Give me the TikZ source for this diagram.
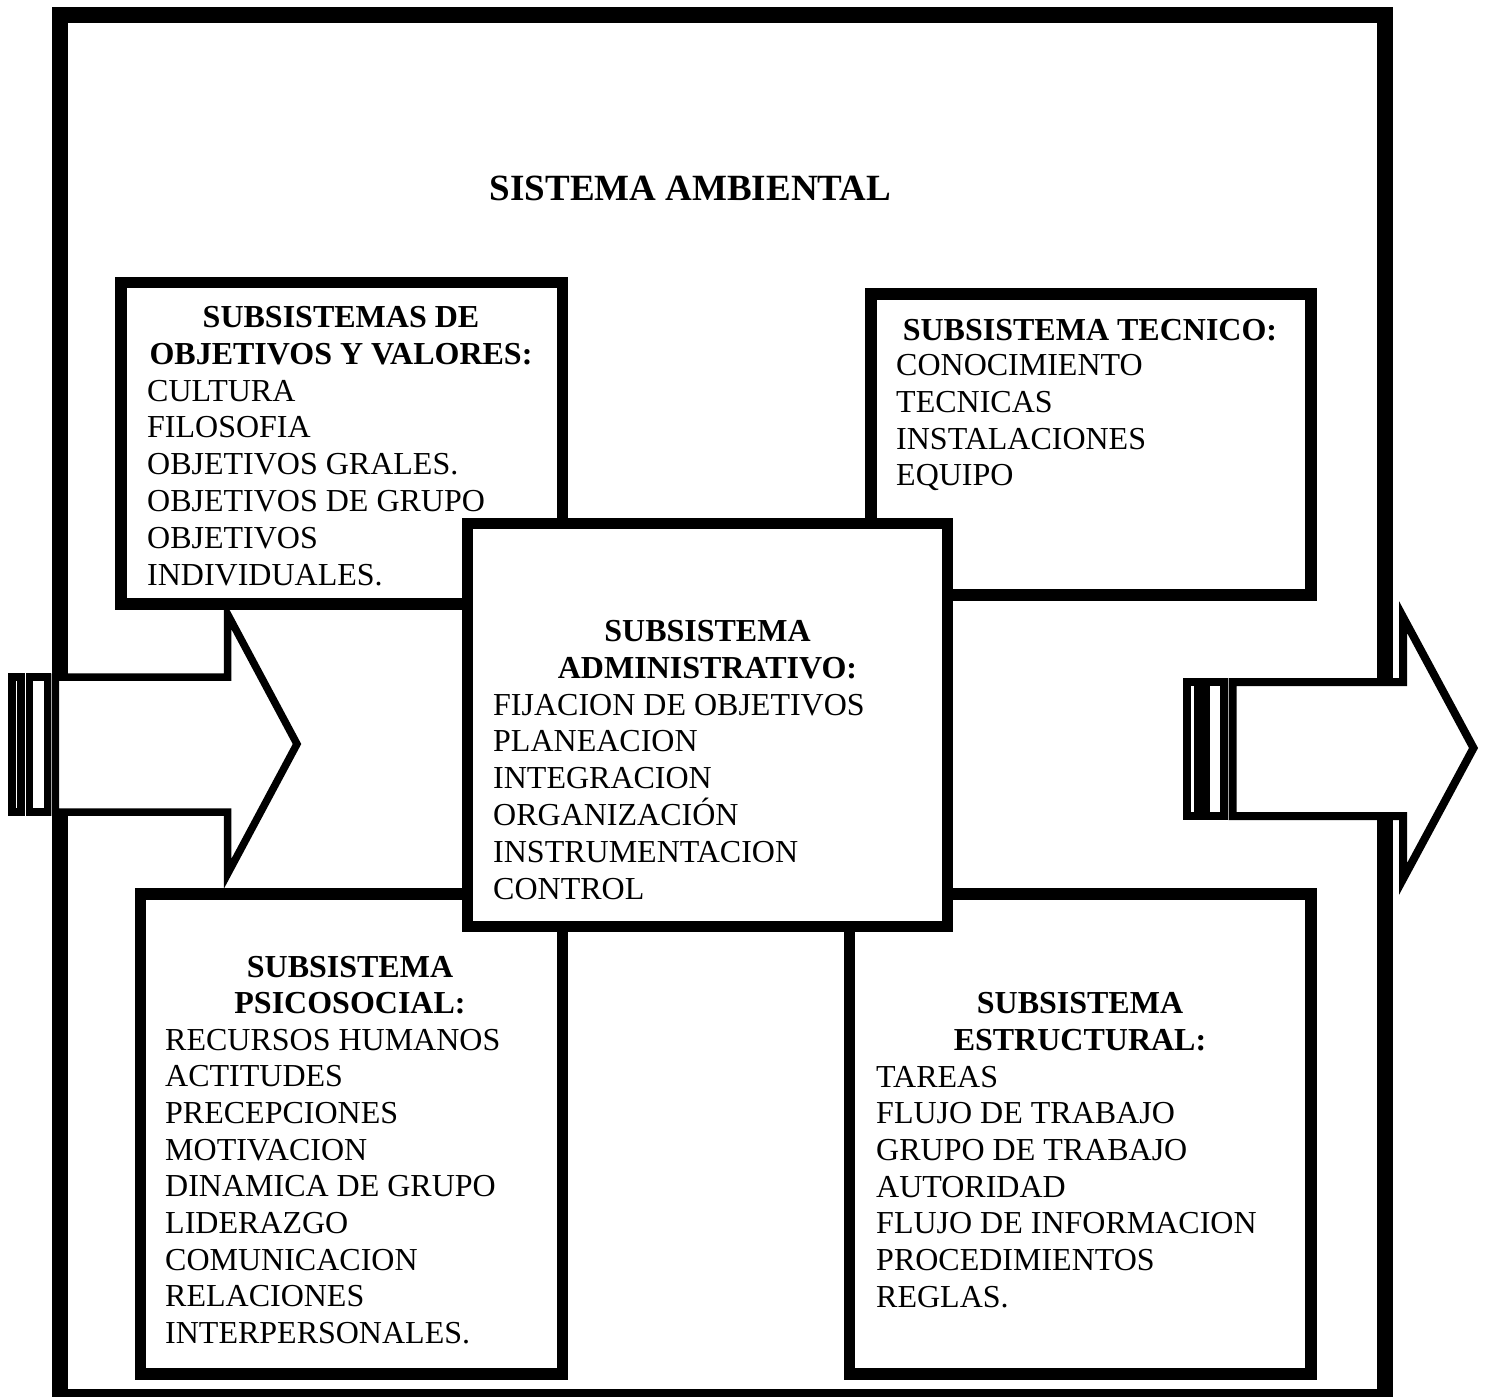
\documentclass[tikz,border=0pt]{standalone}
\usepackage{fontspec}
\setmainfont{Liberation Serif}
\begin{document}
\begin{tikzpicture}[x=1pt,y=-1pt,
  frameline/.style={line width=16pt},
  box/.style={draw, rectangle, line width=11.5pt, fill=white, inner sep=0pt},
  arrowshape/.style={draw, line width=7.5pt, fill=white, line join=miter},
  stripe/.style={draw, line width=7.5pt, fill=white},
  head/.style={font=\fontsize{32}{37}\bfseries\selectfont, anchor=base, inner sep=0pt},
  item/.style={font=\fontsize{32}{37}\selectfont, anchor=base west, inner sep=0pt},
  titletext/.style={font=\fontsize{37}{42}\bfseries\selectfont, anchor=base, inner sep=0pt}]
\useasboundingbox (0,0) rectangle (1486,1397);
% outer frame
\draw[frameline] (59.5,15) rectangle (1384.7,1397.3);
\node[titletext] (title) at (690.5,200) {SISTEMA AMBIENTAL};
% subsystem boxes
\node[box, minimum width=441.5pt, minimum height=321.5pt] (obj) at (341.75,443.25) {};
\node[box, minimum width=440pt, minimum height=301pt] (tec) at (1091,444.5) {};
\node[box, minimum width=422pt, minimum height=480pt] (psi) at (351.5,1134) {};
\node[box, minimum width=461.5pt, minimum height=480pt] (est) at (1080.25,1134) {};
\node[box, minimum width=480pt, minimum height=403pt] (adm) at (707.5,725) {};
% left arrow
\draw[stripe] (12,677) rectangle (21,812);
\draw[stripe] (29.7,677) rectangle (47.3,812);
\draw[arrowshape] (55.4,677) -- (227.5,677) -- (227.5,614) -- (297,744) -- (227.5,874) -- (227.5,812) -- (55.4,812) -- cycle;
% right arrow
\draw[stripe, line width=8pt] (1187,682) rectangle (1198,816);
\draw[stripe, line width=8pt] (1206,682) rectangle (1224,816);
\draw[arrowshape, line width=8pt] (1232.5,682) -- (1403,682) -- (1403,617) -- (1473.5,748) -- (1403,879) -- (1403,816) -- (1232.5,816) -- cycle;
% texts: objetivos y valores
\node[head] (objh1) at (341,327) {SUBSISTEMAS DE};
\node[head] (objh2) at (341,364) {OBJETIVOS Y VALORES:};
\foreach \t [count=\i] in {CULTURA,FILOSOFIA,OBJETIVOS GRALES.,OBJETIVOS DE GRUPO,OBJETIVOS,INDIVIDUALES.}
  \node[item] (obji\i) at (147,{401+36.8*(\i-1)}) {\t};
% tecnico
\node[head] (tech1) at (1090,340) {SUBSISTEMA TECNICO:};
\foreach \t [count=\i] in {CONOCIMIENTO,TECNICAS,INSTALACIONES,EQUIPO}
  \node[item] (teci\i) at (896,{375.5+36.8*(\i-1)}) {\t};
% administrativo
\node[head] (admh1) at (707.5,641) {SUBSISTEMA};
\node[head] (admh2) at (707.5,678) {ADMINISTRATIVO:};
\foreach \t [count=\i] in {FIJACION DE OBJETIVOS,PLANEACION,INTEGRACION,ORGANIZACIÓN,INSTRUMENTACION,CONTROL}
  \node[item] (admi\i) at (493,{715+36.8*(\i-1)}) {\t};
% psicosocial
\node[head] (psih1) at (350,977) {SUBSISTEMA};
\node[head] (psih2) at (350,1013) {PSICOSOCIAL:};
\foreach \t [count=\i] in {RECURSOS HUMANOS,ACTITUDES,PRECEPCIONES,MOTIVACION,DINAMICA DE GRUPO,LIDERAZGO,COMUNICACION,RELACIONES,INTERPERSONALES.}
  \node[item] (psii\i) at (165,{1050+36.7*(\i-1)}) {\t};
% estructural
\node[head] (esth1) at (1080,1013) {SUBSISTEMA};
\node[head] (esth2) at (1080,1050) {ESTRUCTURAL:};
\foreach \t [count=\i] in {TAREAS,FLUJO DE TRABAJO,GRUPO DE TRABAJO,AUTORIDAD,FLUJO DE INFORMACION,PROCEDIMIENTOS,REGLAS.}
  \node[item] (esti\i) at (876,{1087+36.7*(\i-1)}) {\t};
\end{tikzpicture}
\end{document}
